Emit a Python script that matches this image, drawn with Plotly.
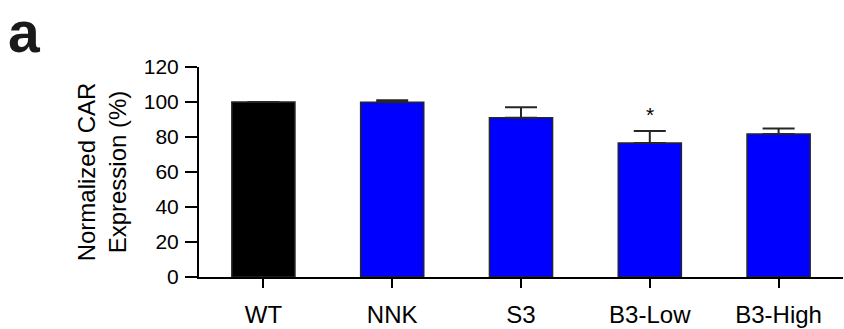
import plotly.graph_objects as go

# Normalized CAR expression per group (mean and upper SEM)
groups = ["WT", "NNK", "S3", "B3-Low", "B3-High"]
expression = [100, 99.8, 91.0, 76.6, 81.7]
sem = [0, 1.2, 6.0, 6.8, 3.2]
bar_colors = ["#000000", "#0000FF", "#0000FF", "#0000FF", "#0000FF"]
significance = ["", "", "", "*", ""]
y_ticks = [0, 20, 40, 60, 80, 100, 120]

FONT = "Liberation Sans, Arial, sans-serif"

fig = go.Figure()
fig.add_trace(go.Bar(
    x=groups,
    y=expression,
    width=0.49,
    marker=dict(color=bar_colors, line=dict(color="#262626", width=1.5)),
    error_y=dict(
        type="data",
        symmetric=False,
        array=sem,
        arrayminus=[0] * len(sem),
        color="#262626",
        thickness=2,
        width=16,
    ),
    showlegend=False,
))

# Significance markers above the error bars
for g, v, e, s in zip(groups, expression, sem, significance):
    if s:
        fig.add_annotation(
            x=g, y=v + e, text=s, showarrow=False,
            yanchor="bottom", yshift=3,
            font=dict(family=FONT, size=21, color="#000000"),
        )

# Panel letter (paper coordinates are relative to the plot area);
# a fixed box height keeps the label inside the page.
fig.add_annotation(
    x=-0.299, y=1.31, xref="paper", yref="paper",
    xanchor="left", yanchor="top",
    height=60, valign="bottom",
    text="<b>a</b>", showarrow=False,
    font=dict(family=FONT, size=57, color="#1a1a1a"),
)

fig.update_layout(
    width=844,
    height=329,
    margin=dict(l=199, r=1, t=67, b=48),
    paper_bgcolor="white",
    plot_bgcolor="white",
    font=dict(family=FONT, color="#000000"),
    bargap=0.51,
)

fig.update_xaxes(
    type="category",
    range=[-0.5, 4.5],
    showline=True, linecolor="#000000", linewidth=2,
    ticks="outside", ticklen=9, tickwidth=2, tickcolor="#000000",
    tickfont=dict(family=FONT, size=24, color="#000000"),
    ticklabelstandoff=6,
    showgrid=False, zeroline=False,
)

fig.update_yaxes(
    range=[0, 120],
    tickvals=y_ticks,
    showline=True, linecolor="#000000", linewidth=2,
    ticks="outside", ticklen=12, tickwidth=2, tickcolor="#000000",
    tickfont=dict(family=FONT, size=21, color="#000000"),
    ticklabelstandoff=2,
    showgrid=False, zeroline=False,
    title=dict(
        text="Normalized CAR<br>Expression (%)",
        font=dict(family=FONT, size=24, color="#000000"),
        standoff=10,
    ),
)

fig.write_html("out.html")
